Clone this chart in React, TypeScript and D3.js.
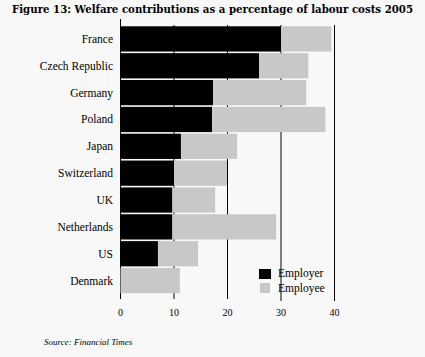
import React from "react";
import * as d3 from "d3";

const countries = ["France", "Czech Republic", "Germany", "Poland", "Japan", "Switzerland", "UK", "Netherlands", "US", "Denmark"];
const employer = [30, 25.9, 17.3, 17.1, 11.3, 10.0, 9.7, 9.7, 7.0, 0];
const employee = [9.4, 9.2, 17.4, 21.2, 10.5, 9.9, 8.0, 19.4, 7.5, 11.1];
const ticks = [0, 10, 20, 30, 40];
const seriesNames = ["Employer", "Employee"];
const colors = ["#000000", "#c8c8c8"];

export default function App() {
  const W = 425, H = 357;
  const x = d3.scaleLinear().domain([0, 40]).range([120.5, 334.5]);
  const y = d3.scaleBand<string>().domain(countries).range([25.5, 294]).paddingInner(0.06).paddingOuter(0.03);
  const serif = "'Liberation Serif', 'DejaVu Serif', serif";
  return (
    <svg width={W} height={H} style={{ position: "absolute", left: 0, top: 0, background: "#f8f8f8" }}>
      <rect x={0} y={0} width={W} height={H} fill="#f8f8f8" />
      <text x={12} y={13} fontFamily="'DejaVu Serif', serif" fontWeight="bold" fontSize={10.5} textLength={401} lengthAdjust="spacingAndGlyphs" fill="#000">
        Figure 13: Welfare contributions as a percentage of labour costs 2005
      </text>
      {ticks.map((t) => (
        <line key={"g" + t} x1={x(t)} x2={x(t)} y1={t === 0 ? 19 : 25} y2={t >= 30 ? 301 : 299} stroke="#000" strokeWidth={1} />
      ))}
      {countries.map((c, i) => (
        <g key={c}>
          {employer[i] > 0 && (
            <rect x={x(0)} y={y(c)} width={x(employer[i]) - x(0)} height={y.bandwidth()} fill={colors[0]} />
          )}
          <rect x={x(employer[i])} y={y(c)} width={x(employer[i] + employee[i]) - x(employer[i])} height={y.bandwidth()} fill={colors[1]} />
          <text x={113} y={(y(c) as number) + y.bandwidth() / 2 + 4} textAnchor="end" fontFamily={serif} fontSize={11.5} fill="#000">
            {c}
          </text>
        </g>
      ))}
      {ticks.map((t) => (
        <text key={"t" + t} x={x(t)} y={316} textAnchor="middle" fontFamily={serif} fontSize={10} fill="#000">
          {t}
        </text>
      ))}
      {seriesNames.map((s, i) => (
        <g key={s}>
          <rect x={259 + i} y={269 + i * 14} width={12 - i * 2} height={10} fill={colors[i]} />
          <text x={278} y={277 + i * 14.5} fontFamily={serif} fontSize={11.5} fill="#000">
            {s}
          </text>
        </g>
      ))}
      <text x={44} y={345} fontFamily={serif} fontStyle="italic" fontSize={9} fill="#000">
        Source: Financial Times
      </text>
    </svg>
  );
}
